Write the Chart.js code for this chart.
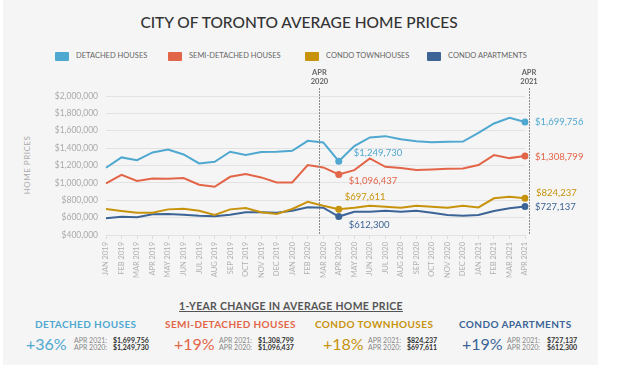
<!DOCTYPE html>
<html>
<head>
<meta charset="utf-8">
<script src="https://cdn.jsdelivr.net/npm/chart.js@4.4.0/dist/chart.umd.min.js"></script>
<style>
  body { margin: 0; background: #fff; font-family: Lato, "Open Sans", sans-serif; }
  #panel { position: absolute; left: 3px; top: 0; width: 595px; height: 365px; background: #f5f5f5; }
  #wrap { position: absolute; left: 0; top: 0; width: 598px; height: 290px; }
  .t { position: absolute; white-space: nowrap; line-height: 1; }
  #title { left: 0; width: 598px; top: 15px; text-align: center; font-size: 15.5px; color: #333; font-weight: 500; }
  .leg { position: absolute; top: 51px; font-size: 7.5px; color: #666; white-space: nowrap; }
  .leg span { display: inline-block; width: 14px; height: 9px; vertical-align: middle; margin-right: 7px; border-radius: 1px; }
  #ytitle { left: 27px; top: 165px; font-size: 8px; color: #aaa; letter-spacing: 0.5px; transform: translate(-50%, -50%) rotate(-90deg); }
  #sub { left: 0; width: 582px; top: 301px; text-align: center; font-size: 10.5px; font-weight: 700; color: #555; text-decoration: underline; letter-spacing: 0.3px; }
  .name { top: 319px; font-size: 10px; font-weight: 700; letter-spacing: 0.4px; }
  .pct { top: 336px; font-size: 16px; font-weight: 400; }
  .lab { font-size: 7px; color: #888; }
  .val { font-size: 7px; color: #333; font-weight: 700; }
</style>
</head>
<body>
<div id="panel"></div>
<div class="t" id="title">CITY OF TORONTO AVERAGE HOME PRICES</div>
<div class="leg" style="left:55px"><span style="background:#4fa8d0"></span>DETACHED HOUSES</div>
<div class="leg" style="left:168px"><span style="background:#e36548"></span>SEMI-DETACHED HOUSES</div>
<div class="leg" style="left:305px"><span style="background:#c8930c"></span>CONDO TOWNHOUSES</div>
<div class="leg" style="left:427px"><span style="background:#3c6496"></span>CONDO APARTMENTS</div>
<div class="t" id="ytitle">HOME PRICES</div>
<div id="wrap"><canvas id="grafico"></canvas></div>

<div class="t" id="sub">1-YEAR CHANGE IN AVERAGE HOME PRICE</div>

<div class="t name" style="left:35px;color:#4fa8d0">DETACHED HOUSES</div>
<div class="t pct" style="left:26px;color:#4fa8d0">+36%</div>
<div class="t lab" style="left:74px;top:337px">APR 2021:</div>
<div class="t lab" style="left:74px;top:344px">APR 2020:</div>
<div class="t val" style="left:113px;top:337px">$1,699,756</div>
<div class="t val" style="left:113px;top:344px">$1,249,730</div>

<div class="t name" style="left:165px;color:#e36548">SEMI-DETACHED HOUSES</div>
<div class="t pct" style="left:174px;color:#e36548">+19%</div>
<div class="t lab" style="left:219px;top:337px">APR 2021:</div>
<div class="t lab" style="left:219px;top:344px">APR 2020:</div>
<div class="t val" style="left:258px;top:337px">$1,308,799</div>
<div class="t val" style="left:258px;top:344px">$1,096,437</div>

<div class="t name" style="left:315px;color:#c8930c">CONDO TOWNHOUSES</div>
<div class="t pct" style="left:323px;color:#c8930c">+18%</div>
<div class="t lab" style="left:368px;top:337px">APR 2021:</div>
<div class="t lab" style="left:368px;top:344px">APR 2020:</div>
<div class="t val" style="left:407px;top:337px">$824,237</div>
<div class="t val" style="left:407px;top:344px">$697,611</div>

<div class="t name" style="left:459px;color:#3c6496">CONDO APARTMENTS</div>
<div class="t pct" style="left:462px;color:#3c6496">+19%</div>
<div class="t lab" style="left:507px;top:337px">APR 2021:</div>
<div class="t lab" style="left:507px;top:344px">APR 2020:</div>
<div class="t val" style="left:547px;top:337px">$727,137</div>
<div class="t val" style="left:547px;top:344px">$612,300</div>

<script>
const meses = ['JAN 2019', 'FEB 2019', 'MAR 2019', 'APR 2019', 'MAY 2019', 'JUN 2019', 'JUL 2019', 'AUG 2019',
  'SEP 2019', 'OCT 2019', 'NOV 2019', 'DEC 2019', 'JAN 2020', 'FEB 2020', 'MAR 2020', 'APR 2020',
  'MAY 2020', 'JUN 2020', 'JUL 2020', 'AUG 2020', 'SEP 2020', 'OCT 2020', 'NOV 2020', 'DEC 2020',
  'JAN 2021', 'FEB 2021', 'MAR 2021', 'APR 2021'];

const detached = [1173600, 1293000, 1262000, 1350000, 1385000, 1327000, 1224000, 1243000,
  1358000, 1320000, 1354000, 1358000, 1369000, 1484000, 1465000, 1249730,
  1423000, 1523000, 1538000, 1503000, 1480000, 1469000, 1472000, 1475000,
  1576000, 1684000, 1749000, 1699756];

const semiDetached = [994000, 1093000, 1021000, 1051000, 1047000, 1055000, 978000, 955000,
  1070000, 1101000, 1063000, 1005000, 1005000, 1205000, 1178000, 1096437,
  1147000, 1281000, 1185000, 1170000, 1147000, 1155000, 1162000, 1166000,
  1205000, 1320000, 1285000, 1308799];

const condoTown = [699000, 676000, 656000, 656000, 695000, 702000, 680000, 630000,
  695000, 710000, 661000, 641000, 699000, 783000, 737000, 697611,
  714000, 737000, 725000, 714000, 737000, 725000, 714000, 737000,
  718000, 822000, 841000, 824237];

const condoApt = [592000, 610000, 605000, 638000, 642000, 634000, 622000, 615000,
  634000, 661000, 661000, 657000, 679000, 718000, 714000, 612300,
  668000, 668000, 679000, 668000, 679000, 656000, 630000, 622000,
  630000, 676000, 707000, 727137];

const yTicks = [400000, 600000, 800000, 1000000, 1200000, 1400000, 1600000, 1800000, 2000000];

const marcas = ['APR 2020', 'APR 2021'];
const idxMarcas = marcas.map(m => meses.indexOf(m));

const series = [
  { label: 'DETACHED HOUSES', data: detached, color: '#4fa8d0' },
  { label: 'SEMI-DETACHED HOUSES', data: semiDetached, color: '#e36548' },
  { label: 'CONDO TOWNHOUSES', data: condoTown, color: '#c8930c' },
  { label: 'CONDO APARTMENTS', data: condoApt, color: '#3c6496' }
];

function dinero(v) {
  return '$' + v.toLocaleString('en-US');
}

// label offsets near the highlighted points [dx, dy] for APR 2020 and APR 2021
const desplaz = [
  [[15, -8], [10, 0]],
  [[10, 6], [10, 1]],
  [[6, -12], [11, -5]],
  [[10, 8], [10, 0]]
];

const marcasPlugin = {
  id: 'marcas',
  afterDatasetsDraw(chart) {
    const ctx = chart.ctx;
    const xs = chart.scales.x, ys = chart.scales.y;
    const step = xs.getPixelForValue(1) - xs.getPixelForValue(0);
    const lineas = [xs.getPixelForValue(idxMarcas[0]) - 1.25 * step, xs.getPixelForValue(idxMarcas[1]) + 4];
    ctx.save();
    lineas.forEach((x, i) => {
      ctx.strokeStyle = '#8a8a8a';
      ctx.lineWidth = 1;
      ctx.setLineDash([2, 1]);
      ctx.beginPath();
      ctx.moveTo(Math.round(x) + 0.5, 88);
      ctx.lineTo(Math.round(x) + 0.5, chart.chartArea.bottom);
      ctx.stroke();
      ctx.setLineDash([]);
      const partes = marcas[i].split(' ');
      ctx.fillStyle = '#666';
      ctx.font = 'bold 7.5px Lato, sans-serif';
      ctx.textAlign = 'center';
      ctx.textBaseline = 'middle';
      ctx.fillText(partes[0], x, 73);
      ctx.fillText(partes[1], x, 82);
    });
    series.forEach((s, si) => {
      idxMarcas.forEach((idx, k) => {
        const px = xs.getPixelForValue(idx);
        const py = ys.getPixelForValue(s.data[idx]);
        ctx.fillStyle = s.color;
        ctx.font = '9.5px Lato, sans-serif';
        ctx.textAlign = 'left';
        ctx.textBaseline = 'middle';
        ctx.fillText(dinero(s.data[idx]), px + desplaz[si][k][0], py + desplaz[si][k][1]);
      });
    });
    ctx.restore();
  }
};

let grafico;

function dibujarGrafico() {
  const ctx = document.getElementById('grafico').getContext('2d');
  grafico = new Chart(ctx, {
    type: 'line',
    data: {
      labels: meses,
      datasets: series.map(s => ({
        label: s.label,
        data: s.data,
        borderColor: s.color,
        backgroundColor: s.color,
        borderWidth: 2,
        tension: 0,
        pointRadius: c => idxMarcas.includes(c.dataIndex) ? 3.5 : 0,
        pointBorderWidth: 0,
        pointHoverRadius: 0
      }))
    },
    options: {
      responsive: true,
      maintainAspectRatio: false,
      animation: false,
      layout: { padding: { top: 96, left: 0, right: 73, bottom: 0 } },
      plugins: { legend: { display: false }, tooltip: { enabled: false } },
      scales: {
        x: {
          grid: { display: true, drawOnChartArea: false, tickLength: 4, color: '#dcdcdc' },
          border: { display: false },
          ticks: {
            autoSkip: false, minRotation: 90, maxRotation: 90, padding: 3,
            color: '#b0b0b0', font: { family: 'Lato', size: 7.5 }
          },
          afterFit: s => { s.height = 55; }
        },
        y: {
          min: 400000,
          max: 2000000,
          afterBuildTicks: s => { s.ticks = yTicks.map(v => ({ value: v })); },
          grid: { color: '#e2e2e2', drawTicks: false },
          border: { display: false },
          ticks: {
            padding: 8, color: '#aaa', font: { family: 'Lato', size: 8.5 },
            callback: v => dinero(v)
          },
          afterFit: s => { s.width = 106; }
        }
      }
    },
    plugins: [marcasPlugin]
  });
}

document.addEventListener('DOMContentLoaded', () => {
  dibujarGrafico();
});
</script>
</body>
</html>
